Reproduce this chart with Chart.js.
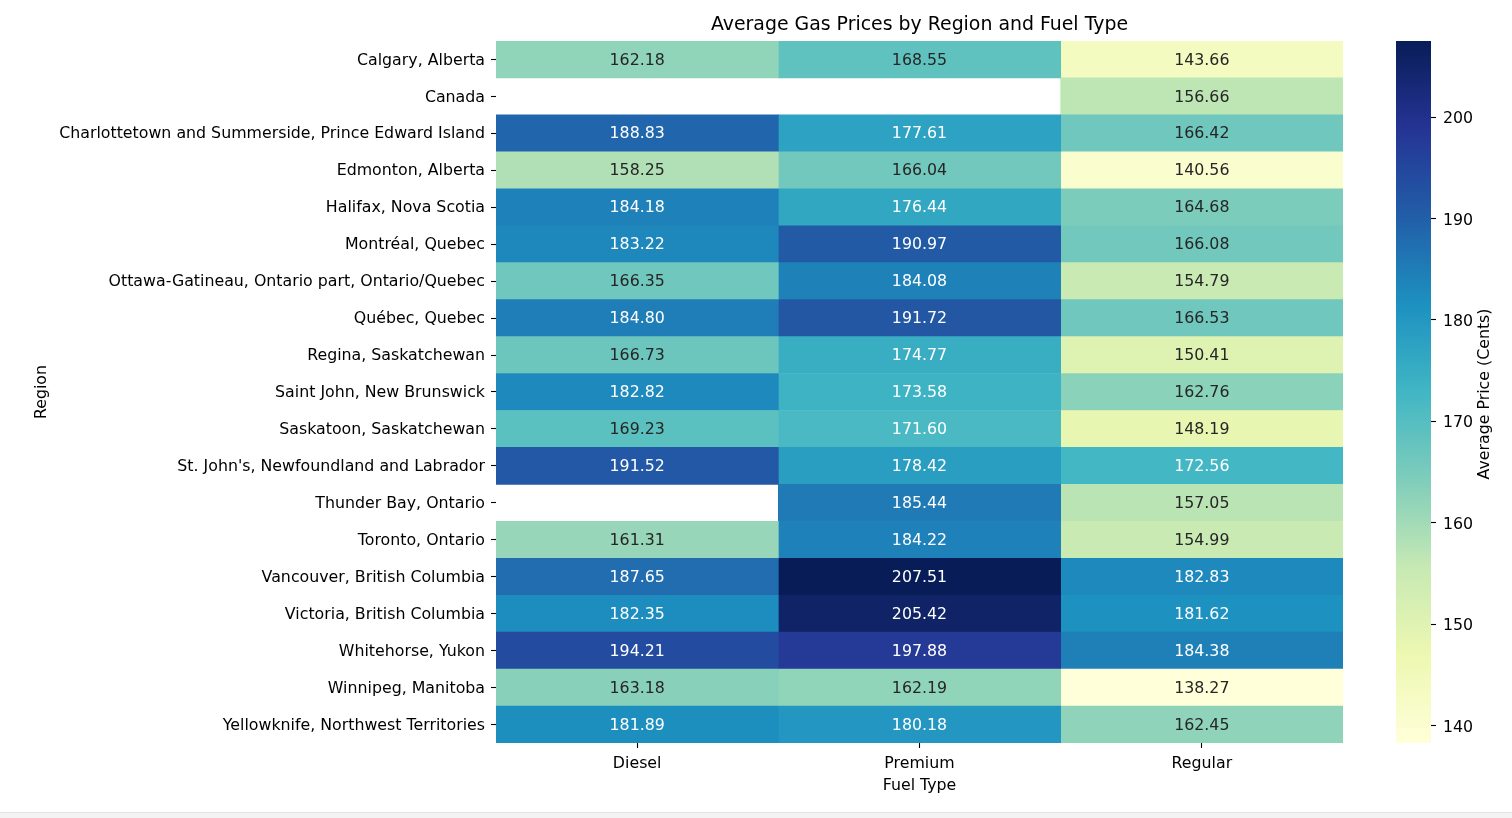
<!DOCTYPE html>
<html>
<head>
<meta charset="utf-8">
<script src="https://cdn.jsdelivr.net/npm/chart.js@4"></script>
<style>
  html, body { margin: 0; padding: 0; background: #fff; }
  #wrap { position: relative; width: 1512px; height: 818px; overflow: hidden; }
  #mainBox { position: absolute; left: 0; top: 0; width: 1380px; height: 818px; }
  #barBox { position: absolute; left: 1380px; top: 0; width: 132px; height: 818px; }
  #strip { position: absolute; left: 0; top: 812px; width: 1512px; height: 6px; background: #f3f3f3; border-top: 1px solid #e2e2e2; }
</style>
</head>
<body>
<div id="wrap">
  <div id="mainBox"><canvas id="heatmap"></canvas></div>
  <div id="barBox"><canvas id="colorbar"></canvas></div>
  <div id="strip"></div>
</div>
<script>
const regions = [
  'Calgary, Alberta',
  'Canada',
  'Charlottetown and Summerside, Prince Edward Island',
  'Edmonton, Alberta',
  'Halifax, Nova Scotia',
  'Montréal, Quebec',
  'Ottawa-Gatineau, Ontario part, Ontario/Quebec',
  'Québec, Quebec',
  'Regina, Saskatchewan',
  'Saint John, New Brunswick',
  'Saskatoon, Saskatchewan',
  "St. John's, Newfoundland and Labrador",
  'Thunder Bay, Ontario',
  'Toronto, Ontario',
  'Vancouver, British Columbia',
  'Victoria, British Columbia',
  'Whitehorse, Yukon',
  'Winnipeg, Manitoba',
  'Yellowknife, Northwest Territories'
];
const fuelTypes = ['Diesel', 'Premium', 'Regular'];

const diesel  = [162.18, null, 188.83, 158.25, 184.18, 183.22, 166.35, 184.80, 166.73, 182.82, 169.23, 191.52, null, 161.31, 187.65, 182.35, 194.21, 163.18, 181.89];
const premium = [168.55, null, 177.61, 166.04, 176.44, 190.97, 184.08, 191.72, 174.77, 173.58, 171.60, 178.42, 185.44, 184.22, 207.51, 205.42, 197.88, 162.19, 180.18];
const regular = [143.66, 156.66, 166.42, 140.56, 164.68, 166.08, 154.79, 166.53, 150.41, 162.76, 148.19, 172.56, 157.05, 154.99, 182.83, 181.62, 184.38, 138.27, 162.45];

const colorbarTicks = [140, 150, 160, 170, 180, 190, 200];

// YlGnBu colormap anchors
const ylgnbu = ['#ffffd9', '#edf8b1', '#c7e9b4', '#7fcdbb', '#41b6c4', '#1d91c0', '#225ea8', '#253494', '#081d58'];

const series = [diesel, premium, regular];
const allValues = series.flat().filter(v => v !== null);
const vmin = Math.min(...allValues);
const vmax = Math.max(...allValues);

function hexToRgb(h) {
  return [parseInt(h.slice(1, 3), 16), parseInt(h.slice(3, 5), 16), parseInt(h.slice(5, 7), 16)];
}
const anchors = ylgnbu.map(hexToRgb);

function cmap(v) {
  let t = (v - vmin) / (vmax - vmin);
  t = Math.max(0, Math.min(1, t));
  const pos = t * (anchors.length - 1);
  const i = Math.min(Math.floor(pos), anchors.length - 2);
  const f = pos - i;
  const a = anchors[i], b = anchors[i + 1];
  return [0, 1, 2].map(k => Math.round(a[k] + (b[k] - a[k]) * f));
}
function rgbStr(c) { return `rgb(${c[0]},${c[1]},${c[2]})`; }

// same rule seaborn uses to pick annotation colour
function luminance(c) {
  const lin = c.map(x => {
    x = x / 255;
    return x <= 0.03928 ? x / 12.92 : Math.pow((x + 0.055) / 1.055, 2.4);
  });
  return 0.2126 * lin[0] + 0.7152 * lin[1] + 0.0722 * lin[2];
}

const FS = 15.8;
Chart.defaults.font.family = '"DejaVu Sans", sans-serif';
Chart.defaults.font.size = FS;
Chart.defaults.color = '#000';
Chart.defaults.animation = false;

const datasets = fuelTypes.map((name, j) => ({
  label: name,
  data: series[j].map(v => v === null ? null : [j, j + 1]),
  backgroundColor: ctx => {
    const v = series[j][ctx.dataIndex];
    return v === null ? 'rgba(0,0,0,0)' : rgbStr(cmap(v));
  },
  borderWidth: 0,
  borderSkipped: false,
  barPercentage: 1,
  categoryPercentage: 1,
  grouped: false
}));

const annotate = {
  id: 'annotate',
  afterDatasetsDraw(chart) {
    const ctx = chart.ctx;
    const xs = chart.scales.x, ys = chart.scales.y;
    ctx.save();
    ctx.font = FS + 'px "DejaVu Sans"';
    ctx.textAlign = 'center';
    ctx.textBaseline = 'middle';
    series.forEach((vals, j) => {
      vals.forEach((v, i) => {
        if (v === null) return;
        const c = cmap(v);
        ctx.fillStyle = luminance(c) > 0.408 ? '#262626' : '#ffffff';
        ctx.fillText(v.toFixed(2), xs.getPixelForValue(j + 0.5), ys.getPixelForValue(i) + 1);
      });
    });
    ctx.restore();
  }
};

new Chart(document.getElementById('heatmap'), {
  type: 'bar',
  data: { labels: regions, datasets },
  plugins: [annotate],
  options: {
    indexAxis: 'y',
    responsive: true,
    maintainAspectRatio: false,
    layout: { padding: { left: 0, right: 37, top: 0, bottom: 0 } },
    plugins: {
      legend: { display: false },
      tooltip: { enabled: false },
      title: {
        display: true,
        fullSize: false,
        text: 'Average Gas Prices by Region and Fuel Type',
        color: '#000',
        font: { size: 18.9, weight: 'normal' },
        padding: { top: 13.6, bottom: 4.7 }
      }
    },
    scales: {
      x: {
        type: 'linear',
        min: 0,
        max: 3,
        afterBuildTicks: s => { s.ticks = [0.5, 1.5, 2.5].map(v => ({ value: v })); },
        afterFit: s => { s.height = 75; },
        ticks: {
          callback: v => fuelTypes[Math.floor(v)],
          maxRotation: 0,
          padding: 6,
          color: '#000'
        },
        grid: { drawOnChartArea: false, drawTicks: true, tickLength: 5, tickColor: '#000', tickWidth: 1.1 },
        border: { display: false },
        title: { display: true, text: 'Fuel Type', color: '#000', padding: { top: 0, bottom: 22.5 } }
      },
      y: {
        afterFit: s => { s.width = 496; },
        ticks: { autoSkip: false, padding: 6, labelOffset: 1, color: '#000' },
        grid: { offset: false, drawOnChartArea: false, drawTicks: true, tickLength: 5, tickColor: '#000', tickWidth: 1.1 },
        border: { display: false },
        title: { display: true, text: 'Region', color: '#000', padding: { top: 32.5, bottom: 0 } }
      }
    }
  }
});

const colorbarLabel = 'Average Price (Cents)';

const gradientFill = {
  id: 'gradientFill',
  beforeDatasetsDraw(chart) {
    const { ctx, chartArea } = chart;
    const ys = chart.scales.y;
    const g = ctx.createLinearGradient(0, ys.getPixelForValue(vmin), 0, ys.getPixelForValue(vmax));
    ylgnbu.forEach((c, i) => g.addColorStop(i / (ylgnbu.length - 1), c));
    ctx.save();
    ctx.fillStyle = g;
    ctx.fillRect(chartArea.left, chartArea.top, chartArea.right - chartArea.left, chartArea.bottom - chartArea.top);
    ctx.restore();
  },
  afterDraw(chart) {
    // matplotlib puts the colorbar label reading bottom-to-top
    const { ctx, chartArea } = chart;
    ctx.save();
    ctx.translate(105, (chartArea.top + chartArea.bottom) / 2 + 2);
    ctx.rotate(-Math.PI / 2);
    ctx.font = FS + 'px "DejaVu Sans"';
    ctx.fillStyle = '#000';
    ctx.textAlign = 'center';
    ctx.textBaseline = 'middle';
    ctx.fillText(colorbarLabel, 0, 0);
    ctx.restore();
  }
};

new Chart(document.getElementById('colorbar'), {
  type: 'bar',
  data: { labels: [''], datasets: [] },
  plugins: [gradientFill],
  options: {
    responsive: true,
    maintainAspectRatio: false,
    layout: { padding: { left: 16, right: 0, top: 41, bottom: 75 } },
    plugins: { legend: { display: false }, tooltip: { enabled: false } },
    scales: {
      x: { display: false },
      y: {
        type: 'linear',
        position: 'right',
        min: vmin,
        max: vmax,
        afterBuildTicks: s => { s.ticks = colorbarTicks.map(v => ({ value: v })); },
        afterFit: s => { s.width = 81; },
        ticks: { padding: 7, labelOffset: 2, color: '#000' },
        grid: { drawOnChartArea: false, drawTicks: true, tickLength: 5, tickColor: '#000', tickWidth: 1.1 },
        border: { display: false }
      }
    }
  }
});
</script>
</body>
</html>
